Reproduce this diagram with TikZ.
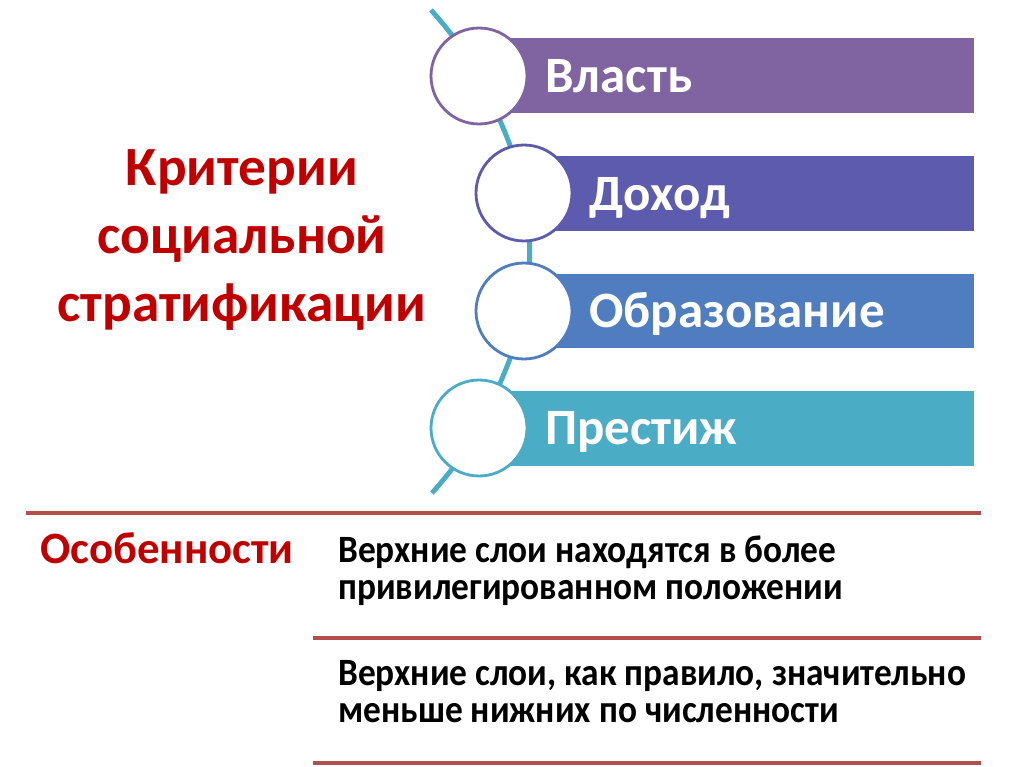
\documentclass[tikz,border=0pt]{standalone}
\usepackage{fontspec}
\setmainfont{Carlito}
\newfontfamily\narrowfont{Carlito}[FakeStretch=0.915]
\usepackage{xcolor}

\definecolor{vlast}{HTML}{8064A2}
\definecolor{dohod}{HTML}{5D5BAD}
\definecolor{obraz}{HTML}{4F7DC0}
\definecolor{prest}{HTML}{4BACC6}
\definecolor{titred}{HTML}{C00000}
\definecolor{rule}{HTML}{B24E4B}

\tikzset{
  crit/.style={circle,draw,fill=white,line width=1.6pt,minimum size=1.92cm,inner sep=0pt},
  bartext/.style={anchor=base west,text=white,inner sep=0pt,font=\fontsize{29}{32}\selectfont\bfseries},
  feat/.style={anchor=base west,align=left,inner sep=0pt,font=\narrowfont\fontsize{22}{20.5}\selectfont\bfseries}
}

\begin{document}
\begin{tikzpicture}[x=0.02cm,y=-0.02cm]
  \useasboundingbox (0,0) rectangle (1024,767);
  \fill[white] (0,0) rectangle (1024,767);

  % bars
  \fill[vlast] (480,38) rectangle (974,113);
  \fill[dohod] (524,156) rectangle (974,231);
  \fill[obraz] (524,274) rectangle (974,348);
  \fill[prest] (480,391) rectangle (974,466);

  % circles on the arc
  \coordinate (top) at (431,10);
  \coordinate (bot) at (432,493);
  \path (479,76) coordinate (p1) (524,193) coordinate (p2)
        (524,311) coordinate (p3) (479,428) coordinate (p4);
  \draw[prest,line width=2.8pt] plot[smooth,tension=0.6] coordinates {(top) (p1) (p2) (p3) (p4) (bot)};
  \node[crit,draw=vlast] (c1) at (p1) {};
  \node[crit,draw=dohod] (c2) at (p2) {};
  \node[crit,draw=obraz] (c3) at (p3) {};
  \node[crit,draw=prest] (c4) at (p4) {};

  \node[bartext] (t1) at (545,92) {Власть};
  \node[bartext] (t2) at (589,210) {Доход};
  \node[bartext] (t3) at (589,327) {Образование};
  \node[bartext] (t4) at (545,444) {Престиж};

  % title
  \node[text=titred,align=center,font=\fontsize{31.5}{38.5}\selectfont\bfseries] (title) at (242,240) {Критерии\\социальной\\стратификации};

  % lower table
  \draw[rule,line width=1.8pt] (26,513) -- (981,513);
  \draw[rule,line width=1.8pt] (313,638) -- (981,638);
  \draw[rule,line width=1.8pt] (313,763) -- (981,763);
  \node[anchor=base west,inner sep=0pt,text=titred,font=\fontsize{25.5}{28}\selectfont\bfseries] (osob) at (40,563) {Особенности};
  % base anchor sits on the last line
  \node[feat] (f1) at (338,599) {Верхние слои находятся в более\\привилегированном положении};
  \node[feat] (f2) at (338,722) {Верхние слои, как правило, значительно\\меньше нижних по численности};
\end{tikzpicture}
\end{document}
